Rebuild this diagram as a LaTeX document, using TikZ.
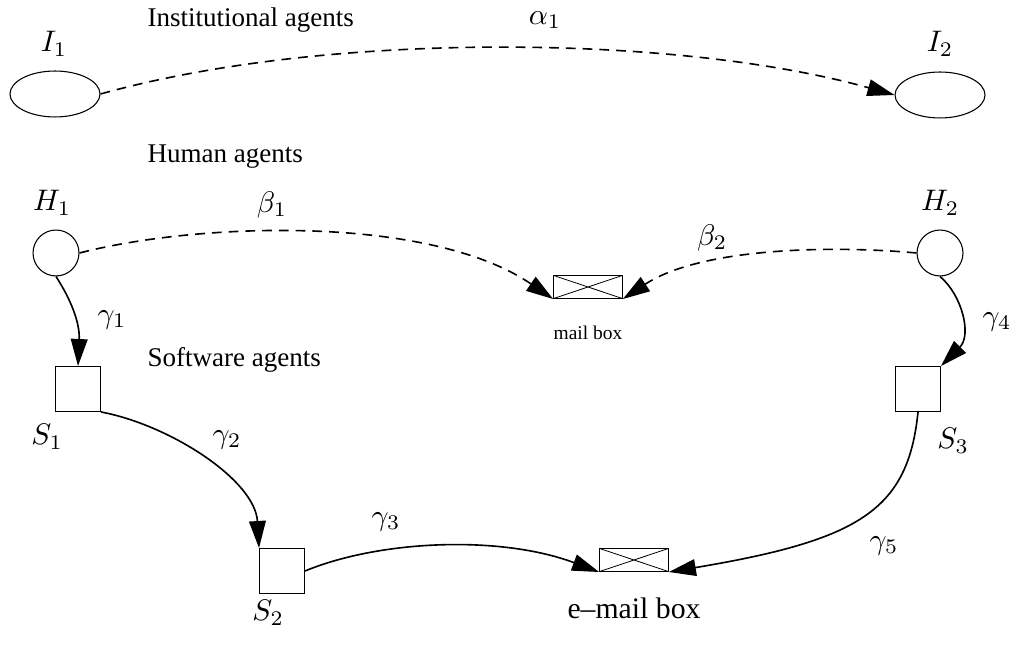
\RequirePackage{fix-cm}
\documentclass[tikz,border=0pt]{standalone}
\usepackage[no-math]{fontspec}
\setmainfont{Liberation Serif}
\usetikzlibrary{arrows.meta,shapes.geometric}
\begin{document}
\begin{tikzpicture}[x=0.37pt,y=-0.37pt,
  agent/.style={draw, line width=0.4pt, inner sep=0pt},
  inst/.style={agent, ellipse, minimum width=33.3pt, minimum height=17pt},
  human/.style={agent, circle, minimum size=17pt},
  soft/.style={agent, rectangle, minimum size=16.6pt},
  boxnode/.style={agent, rectangle, minimum width=25.4pt, minimum height=8.5pt,
    path picture={\draw[line width=0.3pt]
      (path picture bounding box.north west) -- (path picture bounding box.south east)
      (path picture bounding box.south west) -- (path picture bounding box.north east);}},
  flow/.style={line width=0.6pt, -{Triangle[length=10pt,width=6.2pt]}},
  promise/.style={flow, dash pattern=on 3.6pt off 2.6pt},
  tag/.style={inner sep=0pt, font=\fontsize{11}{13}\selectfont},
  heading/.style={anchor=base west, inner sep=0pt}]
\useasboundingbox (0,0) rectangle (1014,646);

% layer headings
\node[heading] (hinst) at (147,27) {Institutional agents};
\node[heading] (hhum)  at (147,163) {Human agents};
\node[heading] (hsoft) at (147,367) {Software agents};

% institutional agents
\node[inst] (I1) at (55,94) {};
\node[inst] (I2) at (940,95) {};
\node[tag] (lI1) at (54,44) {$I_1$};
\node[tag] (lI2) at (940,44) {$I_2$};

% human agents
\node[human] (H1) at (56,253) {};
\node[human] (H2) at (940,253) {};
\node[tag] (lH1) at (52,203) {$H_1$};
\node[tag] (lH2) at (940,203) {$H_2$};

% software agents
\node[soft] (S1) at (78,389) {};
\node[soft] (S2) at (282,571) {};
\node[soft] (S3) at (918,389) {};
\node[tag] (lS1) at (47,437) {$S_1$};
\node[tag] (lS2) at (268,613) {$S_2$};
\node[tag] (lS3) at (953,441) {$S_3$};

% boxes
\node[boxnode] (mail) at (588,287) {};
\node[boxnode] (email) at (634,560) {};
\node[inner sep=0pt, font=\fontsize{7.2}{9}\selectfont] (lmail) at (588,333) {mail box};
\node[inner sep=0pt, font=\fontsize{11}{13}\selectfont] (lemail) at (634,608) {e–mail box};

% promises between agents
\draw[promise] (I1.east) .. controls (330,30) and (680,35) .. (I2.west);
\draw[promise] (H1.east) .. controls (200,222) and (430,215) .. (mail.south west);
\draw[promise] (H2.west) .. controls (830,245) and (700,248) .. (mail.south east);

% software channels
\draw[flow] (H1.south) .. controls (70,298) and (80,322) .. (S1.north);
\draw[flow] (H2.south) .. controls (962,295) and (972,335) .. (S3.north east);
\draw[flow] (S1.south east) .. controls (170,425) and (255,480) .. (S2.north west);
\draw[flow] (S2.east) .. controls (380,540) and (500,535) .. (email.south west);
\draw[flow] (S3.south) .. controls (908,510) and (860,540) .. (email.south east);

% connector labels
\node[tag] (la1) at (545,20) {$\alpha_1$};
\node[tag] (lb1) at (272,205) {$\beta_1$};
\node[tag] (lb2) at (712,238) {$\beta_2$};
\node[tag] (lg1) at (112,320) {$\gamma_1$};
\node[tag] (lg2) at (227,440) {$\gamma_2$};
\node[tag] (lg3) at (386,522) {$\gamma_3$};
\node[tag] (lg4) at (997,322) {$\gamma_4$};
\node[tag] (lg5) at (884,546) {$\gamma_5$};
\end{tikzpicture}
\end{document}
